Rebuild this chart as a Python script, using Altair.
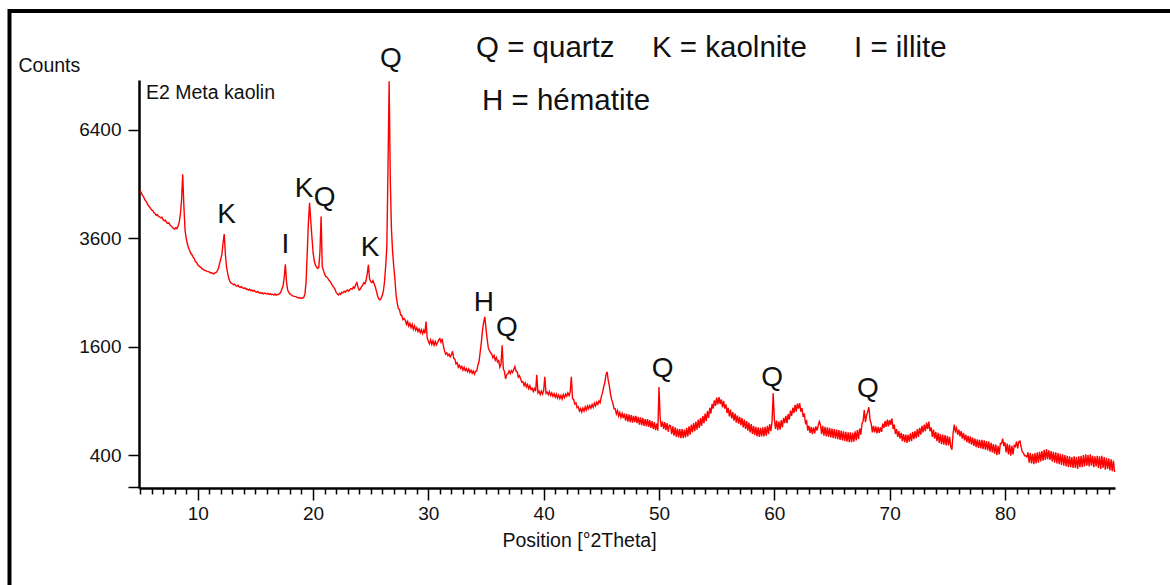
import altair as alt
import pandas as pd

# Diffractogram sampled every 0.1 degree 2-theta from 5.0 deg
scan_start = 5.0
scan_step = 0.1

counts_05_20 = [
    4720, 4680, 4610, 4575, 4500, 4470, 4420, 4360, 4330, 4290,   # 5
    4250, 4235, 4180, 4170, 4120, 4135, 4095, 4080, 4060, 4075,   # 6
    4020, 3990, 4005, 3950, 3930, 3945, 3890, 3870, 3840, 3815,   # 7
    3800, 3830, 3810, 3870, 3960, 4150, 4480, 5150, 4350, 3780,   # 8
    3600, 3480, 3390, 3330, 3270, 3240, 3190, 3160, 3100, 3080,   # 9
    3030, 3010, 2990, 2975, 2950, 2935, 2920, 2915, 2900, 2895,   # 10
    2890, 2870, 2875, 2860, 2850, 2870, 2880, 2910, 2960, 3060,   # 11
    3150, 3250, 3500, 3690, 3250, 2990, 2860, 2760, 2700, 2670,   # 12
    2660, 2640, 2650, 2625, 2610, 2630, 2600, 2590, 2605, 2580,   # 13
    2570, 2580, 2555, 2560, 2540, 2555, 2530, 2540, 2520, 2535,   # 14
    2510, 2500, 2515, 2490, 2495, 2480, 2490, 2470, 2485, 2475,   # 15
    2470, 2480, 2460, 2475, 2455, 2465, 2450, 2470, 2445, 2460,   # 16
    2460, 2475, 2500, 2560, 2620, 2780, 3040, 2700, 2540, 2500,   # 17
    2470, 2455, 2440, 2430, 2425, 2420, 2410, 2400, 2395, 2400,   # 18
    2390, 2395, 2410, 2470, 2700, 3300, 3950, 4420, 4000, 3640,   # 19
]
counts_20_35 = [
    3300, 3120, 3030, 2990, 2960, 2980, 3300, 4090, 3000, 2920,   # 20
    2850, 2800, 2790, 2760, 2720, 2700, 2660, 2620, 2590, 2560,   # 21
    2500, 2470, 2450, 2480, 2460, 2500, 2490, 2520, 2500, 2530,   # 22
    2540, 2520, 2550, 2570, 2560, 2600, 2580, 2640, 2680, 2600,   # 23
    2540, 2560, 2600, 2630, 2680, 2660, 2720, 2850, 3030, 2760,   # 24
    2700, 2680, 2720, 2660, 2600, 2520, 2430, 2380, 2360, 2390,   # 25
    2440, 2520, 2700, 3000, 3400, 5300, 7900, 5000, 3800, 3300,   # 26
    3000, 2750, 2450, 2310, 2210, 2190, 2100, 2090, 2020, 2040,   # 27
    2010, 1945, 1990, 1915, 1960, 1890, 1945, 1865, 1920, 1850,   # 28
    1890, 1830, 1870, 1810, 1855, 1795, 1850, 1800, 1990, 1730,   # 29
    1680, 1640, 1700, 1630, 1685, 1620, 1675, 1625, 1660, 1700,   # 30
    1720, 1665, 1715, 1610, 1540, 1490, 1510, 1470, 1490, 1450,   # 31
    1480, 1530, 1430, 1420, 1355, 1370, 1310, 1335, 1295, 1320,   # 32
    1270, 1310, 1265, 1290, 1250, 1285, 1240, 1270, 1230, 1260,   # 33
    1220, 1255, 1260, 1340, 1390, 1530, 1670, 1860, 1980, 2070,   # 34
]
counts_35_50 = [
    1870, 1710, 1580, 1540, 1510, 1490, 1440, 1470, 1405, 1440,   # 35
    1380, 1400, 1310, 1350, 1620, 1290, 1250, 1160, 1215, 1220,   # 36
    1260, 1225, 1265, 1240, 1280, 1320, 1260, 1250, 1180, 1200,   # 37
    1160, 1120, 1125, 1075, 1110, 1060, 1090, 1040, 1075, 1030,   # 38
    1045, 1005, 1040, 1010, 1210, 990, 1010, 970, 1010, 975,      # 39
    1020, 1185, 985, 1000, 970, 1005, 960, 990, 950, 980,         # 40
    940, 975, 930, 965, 925, 960, 920, 970, 935, 975,             # 41
    950, 990, 960, 1000, 1185, 925, 915, 865, 875, 825,           # 42
    835, 790, 815, 780, 820, 790, 835, 800, 845, 815,             # 43
    850, 820, 860, 830, 875, 845, 885, 860, 900, 880,             # 44
    950, 990, 1060, 1110, 1210, 1250, 1140, 1070, 970, 910,       # 45
    875, 815, 815, 760, 795, 740, 775, 725, 765, 720,             # 46
    765, 695, 760, 685, 755, 680, 750, 675, 740, 680,             # 47
    740, 670, 730, 655, 725, 650, 720, 645, 710, 640,             # 48
    710, 635, 700, 625, 690, 615, 680, 605, 665, 600,             # 49
]
counts_50_65 = [
    1060, 720, 635, 685, 615, 680, 605, 670, 590, 650,            # 50
    645, 570, 640, 555, 630, 545, 620, 540, 615, 535,             # 51
    615, 535, 610, 540, 625, 550, 640, 565, 655, 585,             # 52
    670, 595, 685, 610, 705, 625, 720, 645, 740, 670,             # 53
    765, 690, 790, 720, 825, 765, 865, 815, 905, 845,             # 54
    935, 860, 940, 865, 915, 830, 900, 815, 860, 770,             # 55
    825, 735, 805, 715, 780, 695, 765, 675, 745, 665,             # 56
    730, 650, 720, 630, 705, 615, 690, 600, 675, 585,             # 57
    660, 570, 645, 560, 635, 550, 630, 545, 625, 550,             # 58
    630, 550, 635, 555, 645, 570, 660, 595, 680, 985,             # 59
    710, 615, 695, 605, 685, 610, 700, 630, 720, 670,             # 60
    740, 670, 760, 705, 795, 740, 825, 770, 855, 785,             # 61
    870, 815, 875, 785, 820, 730, 765, 670, 690, 600,             # 62
    645, 580, 635, 570, 630, 575, 640, 600, 645, 685,             # 63
    655, 570, 645, 555, 635, 550, 630, 545, 625, 540,             # 64
]
counts_65_90 = [
    620, 535, 615, 530, 610, 525, 605, 520, 600, 515,             # 65
    595, 510, 590, 505, 585, 500, 585, 500, 580, 505,             # 66
    595, 515, 605, 525, 620, 565, 665, 690, 800, 680,             # 67
    745, 785, 830, 700, 665, 585, 645, 585, 640, 575,             # 68
    635, 580, 630, 590, 665, 625, 690, 635, 705, 640,             # 69
    700, 655, 715, 615, 655, 570, 615, 545, 595, 530,             # 70
    580, 510, 570, 500, 565, 495, 565, 505, 575, 510,             # 71
    590, 525, 595, 535, 615, 545, 625, 565, 645, 585,             # 72
    655, 595, 675, 615, 685, 595, 630, 545, 610, 530,             # 73
    590, 510, 580, 495, 570, 485, 565, 480, 560, 475,             # 74
    555, 475, 545, 465, 440, 575, 655, 595, 625, 565,             # 75
    610, 550, 595, 530, 580, 515, 565, 500, 555, 490,             # 76
    550, 480, 540, 470, 530, 460, 525, 455, 520, 450,             # 77
    520, 445, 515, 440, 510, 435, 505, 425, 495, 420,             # 78
    485, 410, 480, 400, 470, 405, 490, 490, 530, 470,             # 79
    500, 420, 490, 405, 480, 395, 470, 405, 475, 465,             # 80
    505, 450, 505, 510, 460, 425, 415, 395, 395, 385,             # 81
    420, 345, 415, 340, 410, 335, 415, 340, 420, 345,             # 82
    425, 355, 430, 360, 440, 365, 445, 370, 435, 365,             # 83
    430, 355, 425, 345, 420, 340, 415, 335, 410, 330,             # 84
    405, 325, 400, 320, 395, 315, 390, 315, 385, 310,             # 85
    390, 310, 385, 305, 390, 315, 395, 315, 400, 320,             # 86
    405, 325, 400, 320, 405, 325, 395, 315, 390, 320,             # 87
    395, 310, 390, 305, 395, 310, 385, 300, 380, 305,             # 88
    375, 295, 370, 290, 360, 285,                                 # 89
]

counts = counts_05_20 + counts_20_35 + counts_35_50 + counts_50_65 + counts_65_90
two_theta = [round(scan_start + scan_step * i, 1) for i in range(len(counts))]

# Phase identification letters placed above the reflections
peak_labels = ["K", "I", "K", "Q", "K", "Q", "H", "Q", "Q", "Q", "Q"]
label_theta = [12.5, 17.61, 19.22, 21.01, 24.94, 26.76, 34.82, 36.82, 50.32, 59.82, 68.12]
label_counts = [4133, 3447, 4765, 4539, 3393, 8647, 2315, 1884, 1285, 1169, 1035]

legend_lines = ["Q = quartz", "K = kaolnite", "I = illite", "H = hématite"]
legend_x = [337, 513, 715, 343]
legend_y = [-23, -23, -23, 30]

sample_name = "E2 Meta kaolin"
y_ticks = [200, 400, 1600, 3600, 6400]
x_ticks = list(range(5, 90))

FONT = "Liberation Sans"
INK = "#111111"

x_scale = alt.Scale(domain=[4.91, 89.54], nice=False, zero=False)
y_scale = alt.Scale(type="sqrt", domain=[194, 7943], nice=False, zero=False)

scan = pd.DataFrame({"two_theta": two_theta, "counts": counts})
labels = pd.DataFrame({"label": peak_labels, "two_theta": label_theta, "counts": label_counts})

x_axis = alt.Axis(
    values=x_ticks,
    tickSize={"condition": {"test": "datum.value % 10 === 0", "value": 12}, "value": 6},
    labelExpr="datum.value % 10 === 0 ? datum.label : ''",
    labelOverlap=False,
    labelFlush=False,
    grid=False,
    domainColor="black",
    domainWidth=2.5,
    tickColor="black",
    tickWidth=1.5,
    labelFont=FONT,
    labelFontSize=19,
    labelColor=INK,
    labelPadding=4,
    title="Position [°2Theta]",
    titleFont=FONT,
    titleFontSize=19.5,
    titleFontWeight="normal",
    titleColor=INK,
    titleX=440,
    titleY=58,
    titleAlign="center",
    titleBaseline="alphabetic",
)

y_axis = alt.Axis(
    values=y_ticks,
    labelExpr="datum.value === 200 ? '' : datum.label",
    format="d",
    grid=False,
    domainColor="black",
    domainWidth=2.5,
    tickColor="black",
    tickWidth=1.5,
    tickSize=11,
    labelFont=FONT,
    labelFontSize=19,
    labelColor=INK,
    labelPadding=7,
    title="Counts",
    titleFont=FONT,
    titleFontSize=19.5,
    titleFontWeight="normal",
    titleColor=INK,
    titleAngle=0,
    titleAlign="left",
    titleBaseline="alphabetic",
    titleX=-121,
    titleY=-9,
)

x_enc = alt.X("two_theta:Q", scale=x_scale, axis=x_axis)
y_enc = alt.Y("counts:Q", scale=y_scale, axis=y_axis)

pattern = alt.Chart(scan).mark_line(color="#ff0000", strokeWidth=1.4).encode(
    x=x_enc, y=y_enc
)

peak_text = alt.Chart(labels).mark_text(
    font=FONT, fontSize=28, color=INK, align="center", baseline="middle"
).encode(x=x_enc, y=y_enc, text="label:N")

one_row = pd.DataFrame({"k": [0]})

frame = alt.Chart(one_row).mark_rect(
    fillOpacity=0, stroke="black", strokeWidth=4
).encode(
    x=alt.value(-129.5), x2=alt.value(1100), y=alt.value(-69), y2=alt.value(600)
)

name_text = alt.Chart(one_row).mark_text(
    font=FONT, fontSize=19.5, color=INK, align="left", baseline="alphabetic"
).encode(x=alt.value(7), y=alt.value(19), text=alt.value(sample_name))

legend_layers = [
    alt.Chart(one_row).mark_text(
        font=FONT, fontSize=29.5, color=INK, align="left", baseline="alphabetic"
    ).encode(x=alt.value(lx), y=alt.value(ly), text=alt.value(txt))
    for txt, lx, ly in zip(legend_lines, legend_x, legend_y)
]

chart = alt.layer(pattern, peak_text, frame, name_text, *legend_layers).properties(
    width=976,
    height=408,
    padding={"left": 139, "top": 80, "right": 55, "bottom": 97},
    autosize=alt.AutoSizeParams(type="none"),
    background="white",
).configure_view(stroke=None)

chart.save("out.html", embed_options={"renderer": "svg", "actions": False})
